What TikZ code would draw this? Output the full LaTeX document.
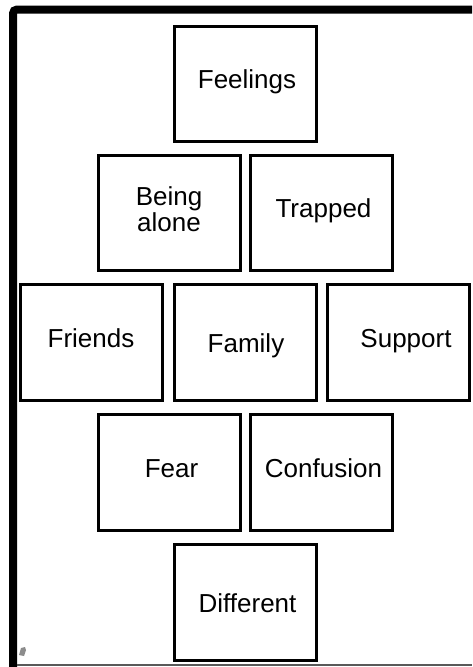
\documentclass[tikz,border=0pt]{standalone}
\usepackage{fontspec}
\setmainfont{Liberation Sans}
\begin{document}
\begin{tikzpicture}[x=1pt, y=-1pt,
  card/.style={draw=black, line width=3pt, rectangle,
    minimum width=142pt, minimum height=115.5pt, inner sep=0pt,
    font=\fontsize{26pt}{26pt}\selectfont, text height=19pt, text depth=9.4pt},
  level/.style={text depth=0pt},
  nudge/.style={execute at begin node={\hspace*{#1}}}]
  \useasboundingbox (0,0) rectangle (472,667);
  \fill[white] (0,0) rectangle (472,667);

  % page frame: heavy left and top edges, thin bottom rule
  \draw[line width=8pt, rounded corners=4pt] (13,680) -- (13,9.5) -- (472,9.5);
  \draw[line width=2pt, black!65] (17,665) -- (472,665);
  \fill[black!45] (19,655) -- (21,648) -- (25,647) -- (26,650) -- (24,656) -- cycle;

  % word cards
  \node[card, nudge=4pt] (feelings) at (245,84) {Feelings};
  \node[card, align=center, text height=45pt, text depth=9pt] (alone) at (169,213) {Being\\alone};
  \node[card, nudge=4pt] (trapped) at (321.5,213) {Trapped};
  \node[card] (friends) at (91,342.5) {Friends};
  \node[card, level, nudge=2pt] (family) at (245,342.5) {Family};
  \node[card, nudge=16pt] (support) at (398,342.5) {Support};
  \node[card, nudge=5pt] (fear) at (169,472.5) {Fear};
  \node[card, nudge=4pt] (confusion) at (321.5,472.5) {Confusion};
  \node[card, level, nudge=5pt] (different) at (245,602.5) {Different};
\end{tikzpicture}
\end{document}
